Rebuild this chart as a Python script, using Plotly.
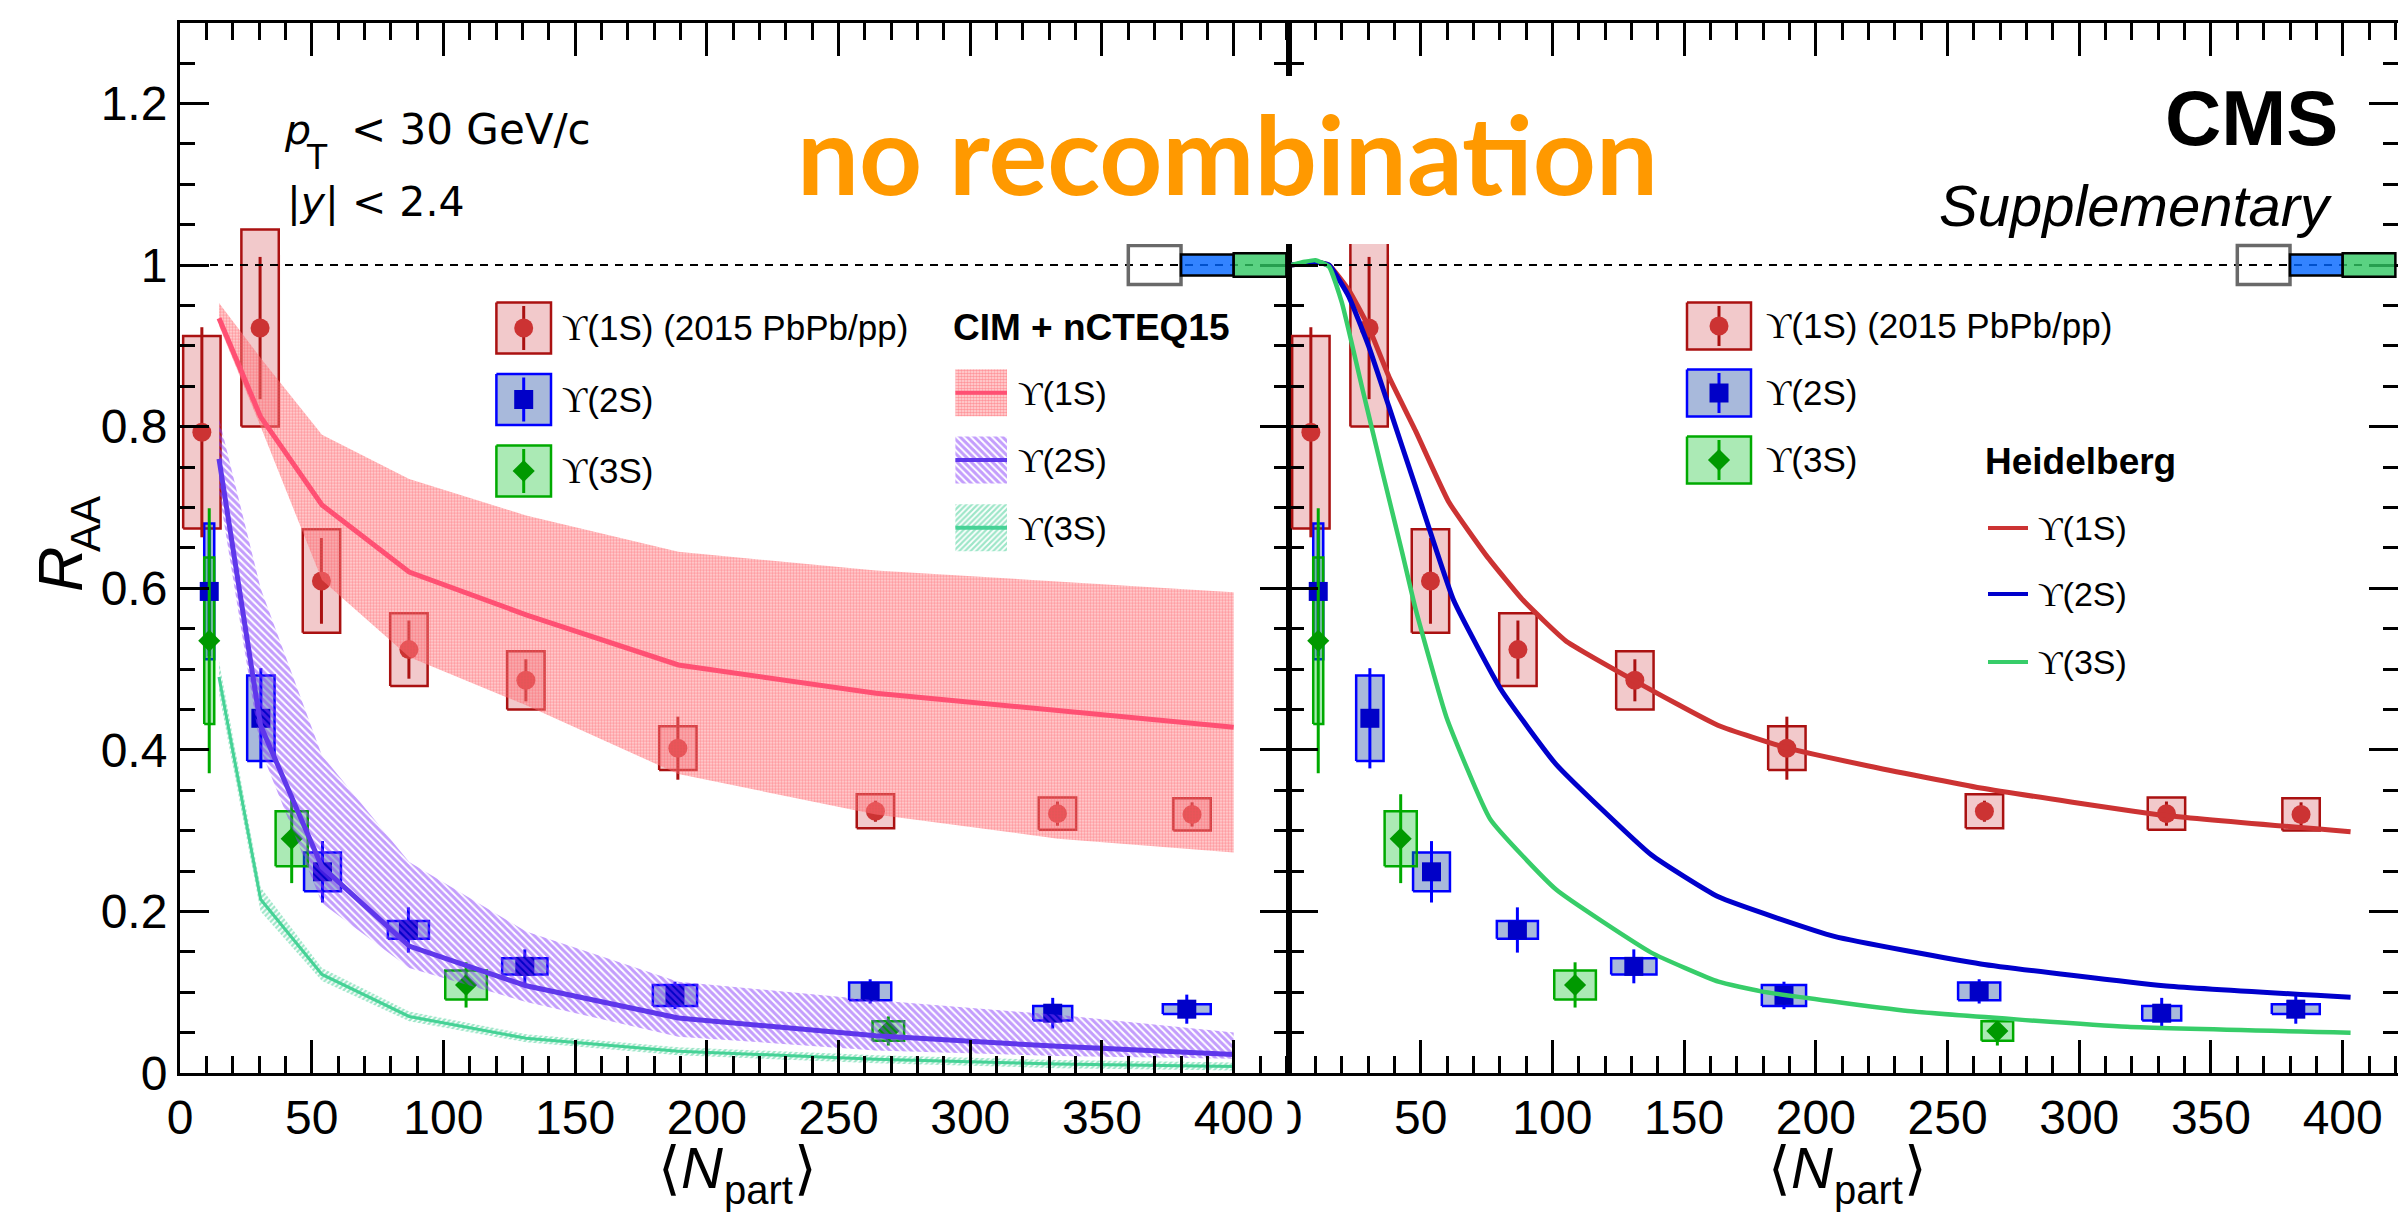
import plotly.graph_objects as go

W, H = 2398, 1214

# ---------------- measured data (CMS Upsilon R_AA vs <Npart>) ----------------
npart_1s = [8.3, 30.4, 53.7, 86.9, 131.3, 189.0, 264.0, 333.1, 384.2]
raa_1s = [0.793, 0.922, 0.609, 0.524, 0.486, 0.402, 0.324, 0.321, 0.320]
stat_1s = [0.130, 0.088, 0.053, 0.036, 0.026, 0.039, 0.013, 0.015, 0.015]
syst_1s = [0.119, 0.122, 0.064, 0.045, 0.036, 0.027, 0.021, 0.020, 0.020]

npart_2s = [11.1, 30.7, 54.1, 86.7, 130.9, 187.9, 262.0, 331.3, 382.2]
raa_2s = [0.596, 0.439, 0.249, 0.177, 0.132, 0.096, 0.101, 0.074, 0.079]
stat_2s = [0.080, 0.062, 0.038, 0.028, 0.021, 0.017, 0.015, 0.019, 0.018]
syst_2s = [0.084, 0.053, 0.024, 0.011, 0.010, 0.013, 0.011, 0.009, 0.006]

npart_3s = [11.1, 42.4, 108.6, 268.9]
raa_3s = [0.535, 0.290, 0.109, 0.052]
stat_3s = [0.164, 0.055, 0.028, 0.018]
syst_3s = [0.103, 0.034, 0.018, 0.012]

# global uncertainties drawn at R_AA = 1 (pp / 2S / 3S)
glob_unc = [0.024, 0.013, 0.0145]

# CIM + nCTEQ15 model bands (left panel)
cim_npart = [14.8, 30.6, 53.9, 87.0, 131.4, 189.2, 264.2, 333.3, 400.0]
cim_1s = [0.934, 0.812, 0.703, 0.620, 0.567, 0.505, 0.470, 0.448, 0.428]
cim_1s_hi = [0.953, 0.885, 0.790, 0.735, 0.690, 0.645, 0.622, 0.608, 0.595]
cim_1s_lo = [0.925, 0.800, 0.610, 0.515, 0.455, 0.370, 0.320, 0.290, 0.273]
cim_2s = [0.760, 0.430, 0.255, 0.157, 0.108, 0.068, 0.046, 0.033, 0.023]
cim_2s_hi = [0.810, 0.600, 0.393, 0.261, 0.175, 0.113, 0.090, 0.072, 0.050]
cim_2s_lo = [0.720, 0.400, 0.210, 0.130, 0.088, 0.045, 0.028, 0.021, 0.0175]
cim_3s = [0.490, 0.215, 0.122, 0.070, 0.043, 0.027, 0.017, 0.011, 0.008]
cim_3s_hi = [0.510, 0.230, 0.130, 0.076, 0.048, 0.032, 0.022, 0.016, 0.013]
cim_3s_lo = [0.470, 0.200, 0.114, 0.064, 0.038, 0.022, 0.012, 0.006, 0.003]

# Heidelberg model curves (right panel)
hd_1s_npart = [1, 6, 11, 15.2, 22.7, 30, 37.9, 48, 60.6, 75, 88.9, 105, 131.4, 163, 189.3, 220, 262.6, 332, 403]
hd_1s = [1.0, 1.002, 1.003, 1.0, 0.969, 0.925, 0.862, 0.795, 0.707, 0.640, 0.585, 0.535, 0.485, 0.430, 0.402, 0.380, 0.3527, 0.319, 0.2985]
hd_2s_npart = [1, 6, 11, 15.2, 22.7, 30.3, 37.9, 48, 62.5, 80.6, 101.4, 137.5, 163, 207, 262.6, 332, 403]
hd_2s = [1.0, 1.002, 1.003, 1.0, 0.961, 0.899, 0.825, 0.726, 0.585, 0.474, 0.382, 0.270, 0.218, 0.169, 0.135, 0.108, 0.0936]
hd_3s_npart = [1, 6, 10, 15.2, 20.1, 27.7, 35.3, 42.9, 48, 59.8, 76.4, 101.4, 137.5, 163, 179.2, 234.9, 318.2, 403]
hd_3s = [1.0, 1.004, 1.006, 0.998, 0.953, 0.849, 0.746, 0.645, 0.575, 0.440, 0.314, 0.227, 0.149, 0.113, 0.101, 0.0767, 0.0572, 0.0499]

xticks = [0, 50, 100, 150, 200, 250, 300, 350, 400]

# ---------------- styles ----------------
bw_1s = [7.1] * 9
bw_2s = [1.9, 5.2, 7.0, 7.8, 8.6, 8.4, 8.0, 7.4, 9.1]
bw_3s = [1.9, 6.1, 7.9, 6.0]

SANS = "Liberation Sans, Arial, Helvetica, sans-serif"
WIDE = "DejaVu Sans, Verdana, sans-serif"
UPS = '<span style="font-family:Liberation Serif, DejaVu Serif, serif">ϒ</span>'

series = [
    dict(x=npart_1s, y=raa_1s, st=stat_1s, sy=syst_1s, hw=bw_1s, fill='rgba(204,40,48,0.25)',
         edge='rgb(170,17,17)', mcol='rgb(204,51,51)', ecol='rgb(170,17,17)', sym='circle', ms=19),
    dict(x=npart_2s, y=raa_2s, st=stat_2s, sy=syst_2s, hw=bw_2s, fill='rgba(0,50,150,0.34)',
         edge='rgb(0,0,255)', mcol='rgb(0,0,200)', ecol='rgb(0,0,255)', sym='square', ms=19),
    dict(x=npart_3s, y=raa_3s, st=stat_3s, sy=syst_3s, hw=bw_3s, fill='rgba(0,190,30,0.33)',
         edge='rgb(0,170,0)', mcol='rgb(0,153,0)', ecol='rgb(0,170,0)', sym='diamond', ms=17),
]

fig = go.Figure()


def add_data(xa, ya):
    for s in series:
        bx, by = [], []
        for x, y, d, h in zip(s['x'], s['y'], s['sy'], s['hw']):
            bx += [x - h, x + h, x + h, x - h, x - h, None]
            by += [y - d, y - d, y + d, y + d, y - d, None]
        fig.add_trace(go.Scatter(x=bx, y=by, mode='lines', fill='toself', fillcolor=s['fill'],
                                 line=dict(color=s['edge'], width=2.5), xaxis=xa, yaxis=ya,
                                 hoverinfo='skip', showlegend=False))
    for s in series:
        fig.add_trace(go.Scatter(x=s['x'], y=s['y'], mode='markers',
                                 marker=dict(symbol=s['sym'], size=s['ms'], color=s['mcol'], line=dict(width=0)),
                                 error_y=dict(type='data', array=s['st'], color=s['ecol'], thickness=3, width=0),
                                 xaxis=xa, yaxis=ya, hoverinfo='skip', showlegend=False))


# ---- left panel: data + CIM bands ----
add_data('x', 'y')
cim = [
    (cim_1s, cim_1s_lo, cim_1s_hi, '.', 'rgb(255,80,92)', 'rgba(255,150,150,0.35)', 'rgb(255,80,115)', 3, 0.6, 5),
    (cim_2s, cim_2s_lo, cim_2s_hi, '\\', 'rgb(135,60,250)', 'rgba(0,0,0,0)', 'rgb(95,55,235)', 5, 0.6, 5),
    (cim_3s, cim_3s_lo, cim_3s_hi, '/', 'rgb(60,205,145)', 'rgba(0,0,0,0)', 'rgb(70,210,150)', 4, 0.55, 3),
]
for c, lo, hi, shp, pcol, bg, lcol, psz, sol, lw in cim:
    fig.add_trace(go.Scatter(x=cim_npart + cim_npart[::-1], y=hi + lo[::-1], mode='lines', fill='toself',
                             line=dict(width=0, color=pcol), fillcolor='rgba(0,0,0,0)',
                             fillpattern=dict(shape=shp, fgcolor=pcol, bgcolor=bg, size=psz, solidity=sol),
                             xaxis='x', yaxis='y', hoverinfo='skip', showlegend=False))
    fig.add_trace(go.Scatter(x=cim_npart, y=c, mode='lines', line=dict(color=lcol, width=lw),
                             xaxis='x', yaxis='y', hoverinfo='skip', showlegend=False))

# ---- right panel: data + Heidelberg curves ----
add_data('x2', 'y2')
for xs, ys, col, lw in [(hd_1s_npart, hd_1s, 'rgb(204,51,51)', 5),
                        (hd_2s_npart, hd_2s, 'rgb(0,0,204)', 5),
                        (hd_3s_npart, hd_3s, 'rgb(55,205,105)', 4.5)]:
    fig.add_trace(go.Scatter(x=xs, y=ys, mode='lines', line=dict(color=col, width=lw, shape='spline', smoothing=0.4),
                             xaxis='x2', yaxis='y2', hoverinfo='skip', showlegend=False))


# ---------------- legends (pixel overlay axis) ----------------
def ov(trace):
    trace.update(xaxis='x3', yaxis='y3', hoverinfo='skip', showlegend=False)
    fig.add_trace(trace)


def lg_data(cx, rows, hw, hh, eb):
    for s, cy in zip(series, rows):
        ov(go.Scatter(x=[cx - hw, cx + hw, cx + hw, cx - hw, cx - hw], y=[cy - hh, cy - hh, cy + hh, cy + hh, cy - hh],
                      mode='lines', fill='toself', fillcolor=s['fill'], line=dict(color=s['edge'], width=2.5)))
        ov(go.Scatter(x=[cx], y=[cy], mode='markers',
                      marker=dict(symbol=s['sym'], size=s['ms'], color=s['mcol'], line=dict(width=0)),
                      error_y=dict(type='data', array=[eb], color=s['ecol'], thickness=3, width=0)))


lg_data(523.7, [328, 399.5, 471], 27.3, 25.5, 22)
lg_data(1719, [326, 393, 460], 32, 23.5, 20)

cim_rows = [392.8, 460, 527.7]
for (c, lo, hi, shp, pcol, bg, lcol, psz, sol, lw), cy in zip(cim, cim_rows):
    x0, x1, hh = 955.4, 1007, 23.5
    ov(go.Scatter(x=[x0, x1, x1, x0, x0], y=[cy - hh, cy - hh, cy + hh, cy + hh, cy - hh], mode='lines', fill='toself',
                  line=dict(width=0, color=pcol), fillcolor='rgba(0,0,0,0)',
                  fillpattern=dict(shape=shp, fgcolor=pcol, bgcolor=bg, size=psz, solidity=sol)))
    ov(go.Scatter(x=[x0, x1], y=[cy, cy], mode='lines', line=dict(color=lcol, width=4)))

hd_rows = [528, 594, 662]
for col, cy in zip(['rgb(204,51,51)', 'rgb(0,0,204)', 'rgb(55,205,105)'], hd_rows):
    ov(go.Scatter(x=[1988, 2028], y=[cy, cy], mode='lines', line=dict(color=col, width=4)))

# ---------------- annotations ----------------
ann = []


def txt(x, y, s, size, family=SANS, color='black', xanchor='left', yanchor='middle', angle=0):
    ann.append(dict(x=x, y=y, xref='x3', yref='y3', text=s, showarrow=False, xanchor=xanchor, yanchor=yanchor,
                    textangle=angle, font=dict(family=family, size=size, color=color), borderpad=0))


labels = [UPS + '(1S) (2015 PbPb/pp)', UPS + '(2S)', UPS + '(3S)']
for s, cy in zip(labels, [328, 399.5, 471]):
    txt(561, cy, s, 35)
for s, cy in zip(labels, [326, 393, 460]):
    txt(1764.6, cy, s, 35)
txt(952, 327, '<b>CIM + nCTEQ15</b>', 37)
for s, cy in zip([UPS + '(1S)', UPS + '(2S)', UPS + '(3S)'], cim_rows):
    txt(1017, cy, s, 34)
txt(1984, 461.7, '<b>Heidelberg</b>', 37)
for s, cy in zip([UPS + '(1S)', UPS + '(2S)', UPS + '(3S)'], hd_rows):
    txt(2037, cy, s, 34)

# kinematic selection text
txt(283, 143.5 - 13.8, '<i>p</i>', 41, WIDE)
txt(305, 168.4 - 11, 'T', 33, WIDE)
txt(349.5, 143.5 - 14, '&lt; 30 GeV/c', 42, WIDE)
txt(286, 216.2 - 13.8, '|<i>y</i>| &lt; 2.4', 41, WIDE)

# CMS labels
txt(2339, 144.7 - 27, '<b>CMS</b>', 78, xanchor='right')
txt(2333, 225.8 - 20, '<i>Supplementary</i>', 58, xanchor='right')

# orange banner
txt(796, 195 - 42.6, '<b>no recombination</b>', 110, family='Lato, Open Sans, sans-serif', color='#FF9900')

# axis titles
txt(59.9, 569, '<i>R</i>', 63, angle=-90, xanchor='center')
txt(85.4, 523.5, 'AA', 42, angle=-90, xanchor='center')
for off in [0, 1110.3]:
    txt(657 + off, 1185 - 18, '⟨<i>N</i>', 58)
    txt(723 + off, 1203.5 - 14, 'part', 40)
    txt(793 + off, 1185 - 18, '⟩', 58)

# ---------------- shapes ----------------
shapes = []
glob_x = [(360, 380), (380, 400), (400, 420)]
glob_fill = ['rgba(0,0,0,0)', 'rgba(0,100,255,0.8)', 'rgba(49,199,99,0.8)']
glob_edge = ['rgb(105,105,105)', 'black', 'black']
glob_lw = [3.5, 2.5, 2.5]
for xa, ya in [('x', 'y'), ('x2', 'y2')]:
    shapes.append(dict(type='line', xref=xa, yref=ya, x0=0, x1=421, y0=1, y1=1, layer='above',
                       line=dict(color='black', width=2, dash='8px,7px')))
    for (gx0, gx1), u, f, e, lw in zip(glob_x, glob_unc, glob_fill, glob_edge, glob_lw):
        shapes.append(dict(type='rect', xref=xa, yref=ya, x0=gx0, x1=gx1, y0=1 - u, y1=1 + u, layer='above',
                           fillcolor=f, line=dict(color=e, width=lw)))
# white background behind the banner text, and clip of the right panel "0" label at the pad edge
shapes.append(dict(type='rect', xref='x3', yref='y3', x0=770, x1=1700, y0=76, y1=244, layer='above',
                   fillcolor='white', line=dict(width=0)))
shapes.append(dict(type='rect', xref='x3', yref='y3', x0=1275, x1=1287.5, y0=1078, y1=1140, layer='above',
                   fillcolor='white', line=dict(width=0)))

# ---------------- axes ----------------
py_top, py_bot = 22.6, 1073
dom_y = [1 - py_bot / H, 1 - py_top / H]
tickfont = dict(family=SANS, size=48, color='black')
xcommon = dict(range=[0, 421], tickmode='array', tickvals=xticks, ticktext=[str(v) for v in xticks],
               ticks='inside', ticklen=33, tickwidth=2.5, tickcolor='black',
               showline=True, linecolor='black', linewidth=3, mirror='allticks', showgrid=False, zeroline=False,
               tickfont=tickfont, fixedrange=True, automargin=False,
               minor=dict(tickmode='linear', tick0=0, dtick=10, ticks='inside', ticklen=17, tickwidth=2.5,
                          tickcolor='black', showgrid=False))
ycommon = dict(range=[0, 1.3], domain=dom_y, tickmode='linear', tick0=0, dtick=0.2,
               ticks='inside', ticklen=29, tickwidth=2.5, tickcolor='black',
               showline=True, linecolor='black', linewidth=3, mirror='allticks', showgrid=False, zeroline=False,
               tickfont=tickfont, fixedrange=True, automargin=False,
               minor=dict(tickmode='linear', tick0=0, dtick=0.05, ticks='inside', ticklen=15, tickwidth=2.5,
                          tickcolor='black', showgrid=False))

fig.update_layout(
    width=W, height=H, autosize=False, margin=dict(l=0, r=0, t=0, b=0, pad=0, autoexpand=False),
    paper_bgcolor='white', plot_bgcolor='rgba(0,0,0,0)', showlegend=False,
    xaxis=dict(xcommon, domain=[180 / W, 1289 / W], anchor='y'),
    yaxis=dict(ycommon, anchor='x'),
    xaxis2=dict(xcommon, domain=[1289 / W, 1.0], anchor='y2'),
    yaxis2=dict(ycommon, anchor='x2', showticklabels=False),
    xaxis3=dict(domain=[0, 1], range=[0, W], visible=False, anchor='y3', fixedrange=True, automargin=False),
    yaxis3=dict(domain=[0, 1], range=[H, 0], visible=False, anchor='x3', fixedrange=True, automargin=False),
    annotations=ann, shapes=shapes,
)

fig.write_html("out.html")
